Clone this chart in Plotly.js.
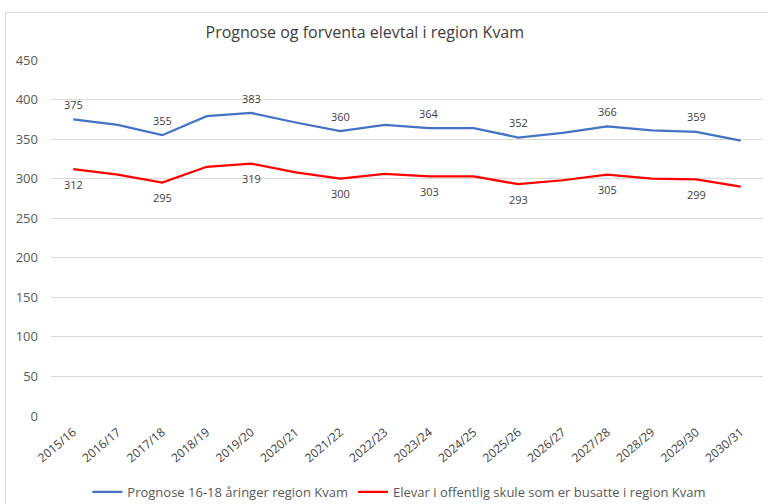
<!DOCTYPE html>
<html>
<head>
<meta charset="utf-8">
<script src="https://cdn.plot.ly/plotly-3.0.1.min.js"></script>
<style>
html,body{margin:0;padding:0;background:#fff;}
#frame{position:absolute;left:5px;top:12px;width:770px;height:500px;border:1px solid #d9d9d9;box-sizing:border-box;}
#chart{position:absolute;left:0;top:0;width:768px;height:504px;}
</style>
</head>
<body>
<div id="frame"></div>
<div id="chart"></div>
<script>
const categories = ["2015/16","2016/17","2017/18","2018/19","2019/20","2020/21","2021/22","2022/23","2023/24","2024/25","2025/26","2026/27","2027/28","2028/29","2029/30","2030/31"];
const prognose = [375,368,355,379,383,371,360,368,364,364,352,358,366,361,359,348];
const elevar = [312,305,295,315,319,308,300,306,303,303,293,298,305,300,299,290];
const prognoseLabels = ["375","","355","","383","","360","","364","","352","","366","","359",""];
const elevarLabels = ["312","","295","","319","","300","","303","","293","","305","","299",""];
const seriesNames = ["Prognose 16-18 åringer region Kvam","Elevar i offentlig skule som er busatte i region Kvam"];

const font = "Open Sans, Noto Sans, sans-serif";
const traces = [
  {x: categories, y: prognose, name: seriesNames[0], type: "scatter", mode: "lines",
   line: {color: "#4472c4", width: 2.25}},
  {x: categories, y: elevar, name: seriesNames[1], type: "scatter", mode: "lines",
   line: {color: "#ff0000", width: 2.25}}
];
const annotations = [];
categories.forEach((c, i) => {
  if (prognoseLabels[i]) annotations.push({x: c, y: prognose[i], text: prognoseLabels[i], showarrow: false,
    yshift: 15, font: {size: 11, color: "#404040", family: font}});
  if (elevarLabels[i]) annotations.push({x: c, y: elevar[i], text: elevarLabels[i], showarrow: false,
    yshift: -15, font: {size: 11, color: "#404040", family: font}});
});
const layout = {
  width: 768, height: 504,
  margin: {l: 51, r: 5, t: 60, b: 88},
  paper_bgcolor: "rgba(0,0,0,0)", plot_bgcolor: "rgba(0,0,0,0)",
  font: {family: font, color: "#595959"},
  title: {text: "Prognose og forventa elevtal i region Kvam", font: {size: 16, color: "#404040", family: font},
          x: 0.475, xanchor: "center", y: 1 - 32/504, yanchor: "middle"},
  xaxis: {type: "category", tickangle: -40, tickfont: {size: 12, color: "#404040"},
          showgrid: false, showline: false, ticks: "", range: [-0.5, 15.5], ticklabelstandoff: 6},
  yaxis: {range: [0, 450], dtick: 50, tickfont: {size: 13, color: "#595959"},
          gridcolor: "#d9d9d9", gridwidth: 1, zeroline: false, showline: false, ticklabelstandoff: 12},
  annotations: annotations,
  showlegend: true,
  legend: {orientation: "h", xref: "container", yref: "container", x: 0.52, xanchor: "center",
           y: 1 - 492/504, yanchor: "middle", font: {size: 13, color: "#595959"}, itemwidth: 30,
           traceorder: "normal"}
};
Plotly.newPlot("chart", traces, layout, {displayModeBar: false, staticPlot: true});
</script>
</body>
</html>
